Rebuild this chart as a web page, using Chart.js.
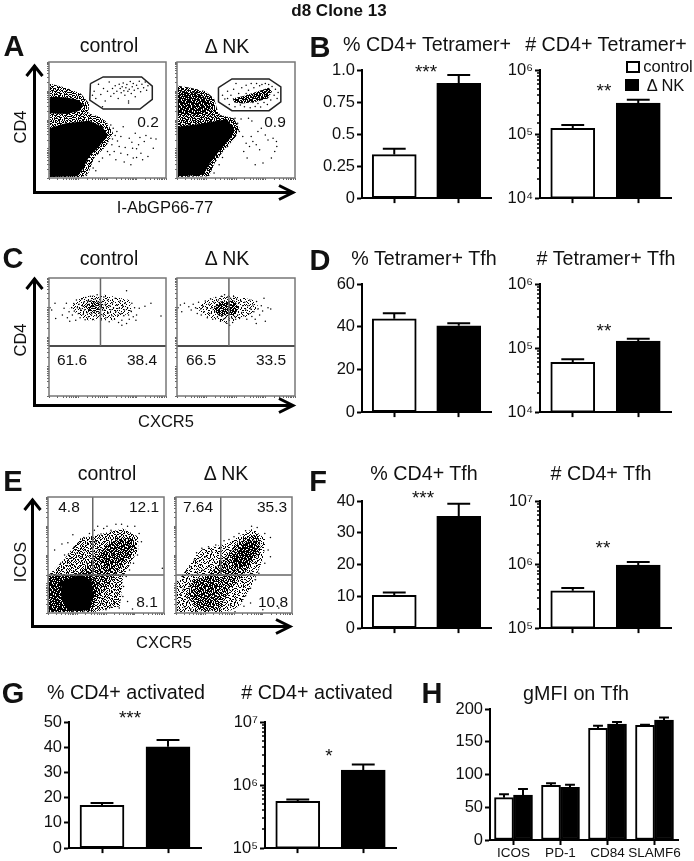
<!DOCTYPE html>
<html>
<head>
<meta charset="utf-8">
<script src="https://cdn.jsdelivr.net/npm/chart.js@4"></script>
<style>
  html, body { margin: 0; padding: 0; background: #fff; }
  #fig { position: relative; width: 694px; height: 861px; overflow: hidden; font-family: "Liberation Sans", Arial, sans-serif; color: #111; }
  #fig canvas { position: absolute; }
  #fig svg { position: absolute; left: 0; top: 0; }
  .t { position: absolute; white-space: nowrap; line-height: 1; transform: translate(-50%, -50%); }
  .box { position: absolute; border: 2px solid #000; box-sizing: border-box; }
</style>
</head>
<body>
<div id="fig"></div>
<script>
// bar panels: bar height, then top of the error whisker
const ctrlVsNk = ['control', 'ΔNK'];
const pctTetramer = [0.34, 0.895];
const pctTetramerTop = [0.385, 0.96];
const numTetramer = [1.23e5, 3.05e5];
const numTetramerTop = [1.38e5, 3.42e5];
const pctTetTfh = [43.7, 40.4];
const pctTetTfhTop = [46.3, 41.6];
const numTetTfh = [5.98e4, 1.28e5];
const numTetTfhTop = [6.7e4, 1.4e5];
const pctTfh = [10.3, 35.2];
const pctTfhTop = [11.2, 39.1];
const numTfh = [3.86e5, 9.77e5];
const numTfhTop = [4.29e5, 1.1e6];
const pctActivated = [17, 40.2];
const pctActivatedTop = [17.9, 42.9];
const numActivated = [5.5e5, 1.72e6];
const numActivatedTop = [5.9e5, 2.12e6];
const gmfiMarkers = ['ICOS', 'PD-1', 'CD84', 'SLAMF6'];
const gmfiControl = [64.6, 83.5, 170.5, 175];
const gmfiControlTop = [70, 86.5, 174.6, 176];
const gmfiNk = [68.7, 80.4, 177, 183];
const gmfiNkTop = [77.9, 84.5, 180, 187];

// flow plots, channels 0-350 on both axes
const flowTicks = [0, 26, 42, 52, 61, 67, 73, 78, 83, 88, 114, 130, 140, 149, 155, 161, 166, 171, 175, 201, 217, 228, 237, 243, 249, 254, 258, 262, 288, 304, 315, 324, 330, 336, 341, 346, 350];

const aCtrlGate = [[124,285],[162,305],[277,305],[309,277],[309,237],[272,208],[162,208],[122,235],[124,285]];
const aCtrlHalo = [[2,285],[50,272],[95,255],[120,225],[118,195],[150,185],[172,170],[192,135],[170,95],[135,60],[118,15],[100,3],[2,3]];
const aCtrlCore = [[[2,240],[12,245],[52,243],[87,235],[102,220],[92,203],[52,193],[2,195]],
                   [[2,150],[50,165],[120,173],[160,155],[175,130],[150,95],[120,65],[100,25],[85,5],[2,3]]];
const aCtrlDots = [[135,262],[140,240],[148,283],[155,252],[163,270],[168,232],[175,262],[180,290],[185,247],[190,270],[194,255],[198,278],[203,262],[207,240],[210,283],[213,270],[216,257],[219,275],[222,287],[224,263],[227,250],[230,272],[233,282],[236,262],[238,226],[240,268],[243,291],[246,255],[249,275],[252,285],[255,265],[258,245],[262,280],[266,270],[270,292],[274,260],[278,283],[283,272],[288,290],[292,265],[296,278],[238,232],[130,250],[160,215],
  [185,160],[192,150],[198,128],[203,140],[205,112],[210,95],[188,100],[195,80],[215,125],[222,155],[228,92],[235,70],[240,120],[248,108],[252,60],[258,135],[262,88],[268,100],[272,122],[275,75],[280,55],[285,110],[290,128],[296,65],[305,120],[312,90],[320,118],[200,55],[225,48],[245,40],[215,75],[182,70],[190,118],[250,90],[262,62],[125,45],[132,30],[140,22],[150,50],[160,60],[175,80],[112,8]];

const aNkGate = [[123,273],[163,299],[273,299],[308,275],[308,230],[273,203],[163,203],[123,230],[123,273]];
const aNkHalo = [[3,278],[40,272],[85,262],[110,240],[120,205],[128,190],[168,180],[186,150],[172,120],[140,85],[112,45],[95,5],[3,3]];
const aNkUpper = [[3,262],[55,258],[95,235],[100,205],[60,190],[3,195]];
const aNkLower = [[3,155],[68,163],[148,177],[168,150],[163,125],[128,85],[98,45],[78,10],[3,5]];
const aNkCluster = [[165,240],[200,248],[240,262],[272,272],[282,262],[270,240],[235,230],[195,225],[170,228]];
const aNkDots = [[135,250],[142,238],[150,262],[155,222],[160,250],[168,268],[172,215],[178,235],[183,255],[188,220],[192,272],[197,242],[200,215],[205,280],[210,232],[212,265],[217,212],[220,285],[225,228],[228,272],[232,216],[236,285],[240,225],[245,278],[248,214],[252,282],[258,228],[262,285],[268,222],[272,282],[278,235],[282,276],[288,250],[292,268],[297,240],[300,258],[150,240],[175,285],[205,255],[225,250],[250,240],[265,250],
  [172,180],[180,165],[190,178],[212,180],[222,172],[185,140],[195,125],[205,105],[215,95],[225,110],[235,100],[245,85],[198,80],[208,60],[232,40],[250,150],[262,130],[270,115],[285,120],[295,110],[296,95],[290,80],[280,60],[255,45],[220,125],[240,140],[125,40],[135,62],[150,95],[110,15]];

const cCtrlHalo = [[60,262],[100,295],[170,300],[240,285],[250,250],[190,225],[110,225]];
const cCtrlCore = [[105,270],[125,285],[160,280],[165,255],[135,245],[108,252]];
const cCtrlDots = [[3,262],[8,255],[18,275],[20,230],[40,240],[45,260],[52,275],[55,232],[60,250],[62,222],[68,262],[70,240],[74,274],[76,252],[80,225],[82,285],[85,262],[88,245],[90,272],[93,232],[95,258],[98,288],[100,268],[102,242],[104,278],[106,255],[108,226],[110,292],[112,266],[114,247],[116,281],[118,235],[120,272],[122,256],[124,296],[126,283],[128,244],[130,265],[132,228],[134,276],[136,252],[138,288],[140,268],[142,238],[144,300],[146,278],[148,258],[150,246],[152,286],[154,270],[156,226],[158,262],[160,280],[162,240],[164,294],[166,254],[168,272],[170,232],[172,264],[175,284],[178,246],[180,220],[182,268],[185,256],[188,238],[190,276],[193,262],[196,228],[198,290],[200,250],[203,270],[206,240],[208,218],[210,260],[213,282],[216,245],[218,225],[220,268],[224,238],[226,255],[228,276],[232,215],[235,262],[238,240],[240,228],[245,252],[248,275],[252,235],[256,262],[260,225],[218,210],[270,260],[262,240],[287,266],[305,275],[335,237],[232,312]];

const cNkHalo = [[55,262],[100,290],[160,300],[225,285],[245,262],[205,235],[150,215],[90,235]];
const cNkCore = [[105,255],[125,280],[170,283],[185,262],[170,240],[125,238]];
const cNkDots = [[3,262],[10,270],[14,250],[22,275],[35,265],[42,255],[48,272],[55,262],[60,245],[64,278],[70,258],[72,240],[76,268],[80,250],[84,282],[88,262],[90,232],[94,272],[97,245],[100,288],[103,262],[106,228],[109,278],[112,250],[115,292],[118,268],[120,234],[123,285],[126,245],[129,222],[132,296],[135,238],[138,228],[141,300],[144,232],[147,216],[150,294],[153,226],[156,210],[159,290],[162,232],[165,218],[168,295],[171,236],[174,228],[177,288],[180,240],[183,276],[186,232],[189,282],[192,248],[195,268],[198,238],[201,278],[204,255],[207,228],[210,268],[213,244],[216,285],[219,258],[222,236],[225,270],[228,250],[232,228],[236,280],[240,258],[245,240],[250,268],[254,252],[258,290],[262,222],[270,262],[278,258],[235,215]];

const eCtrlHalo = [[47,160],[97,225],[147,235],[227,255],[272,230],[272,190],[227,110],[217,20],[137,2],[2,2],[2,115]];
const eCtrlMid = [[97,120],[157,190],[207,228],[257,225],[267,195],[227,145],[187,90],[147,40],[127,5],[60,3],[2,3],[2,105],[47,110]];
const eCtrlLobe = [[150,170],[190,215],[245,225],[262,200],[225,155],[180,125]];
const eCtrlLow = [[2,112],[60,115],[125,125],[150,85],[135,10],[2,3]];
const eCtrlCore = [[40,95],[100,118],[132,95],[137,50],[122,8],[60,6],[40,50]];
const eCtrlDots = [[62,178],[70,165],[80,200],[88,182],[92,212],[100,170],[108,228],[112,190],[118,150],[38,150],[50,175],[30,135],[20,190],[42,208],[60,212],[75,236],[125,240],[140,250],[150,262],[160,238],[168,255],[130,210],[145,215],[178,262],[190,250],[205,268],[222,268],[240,262],[262,262],[275,240],[282,215],[270,175],[258,150],[246,130],[236,110],[228,80],[226,50],[208,60],[200,32],[215,15],[190,18],[175,10],[240,35],[255,12],[185,130],[165,110],[150,85],[170,68],[162,30],[150,15],[345,135],[205,120],[216,160],[235,175],[245,205],[225,215],[195,175],[175,160]];

const eNkHalo = [[2,90],[72,190],[152,210],[232,255],[272,220],[262,160],[232,90],[192,20],[152,2],[2,2]];
const eNkMid = [[92,110],[152,170],[192,220],[247,240],[257,190],[212,125],[162,70],[132,10],[72,5],[32,50],[47,95]];
const eNkCoreLow = [[52,100],[112,115],[132,70],[117,20],[72,15],[52,50]];
const eNkCoreHigh = [[172,160],[202,210],[242,220],[242,180],[207,140],[177,135]];
const eNkDots = [[5,95],[12,80],[20,110],[30,125],[42,140],[55,160],[62,182],[78,195],[88,170],[98,200],[108,185],[120,205],[132,195],[145,218],[160,222],[175,230],[190,240],[210,248],[228,262],[245,258],[268,240],[285,228],[278,190],[285,170],[268,150],[250,120],[240,100],[225,75],[210,52],[198,40],[205,20],[225,30],[262,10],[310,15],[178,4],[180,40],[165,22],[8,30],[15,55],[5,10],[25,18],[35,35],[22,72],[40,80],[45,12],[60,4],[120,150],[100,140],[80,130],[65,120],[140,130],[165,125],[200,95],[225,120],[240,150],[150,150],[180,90]];

// stipple tile for the crowded parts of the flow plots
const stippleRows = [
  '730916248573019462857301',
  '182657039416285073914628',
  '965024817390562481703956',
  '407381956204837195620483',
  '251796430865172943086517',
  '839042615978340261597834',
  '614580372149605837214960',
  '076213984536027198453602',
  '348965120874391520687439',
  '590471836203958163720495',
  '123708549617204895361720',
  '786234095182673409518267',
  '041859627340186295734018',
  '965302718496530271849653',
  '217496083521740960835217',
  '830571462908351746290835',
  '459128730641592873064159',
  '602843159786024315978602',
  '174960528317496052831749',
  '385217604935821760493582',
  '926085371460926537146092',
  '043792816525043928165250',
  '718354960287183549602871',
  '569120483679561204836795'
];

// panel letters, titles and other annotation, x and y are the text centres
const texts = [
  ['d8 Clone 13', 339, 10, 17, 'b'],
  ['A', 14, 46, 29, 'b'], ['B', 320, 47, 29, 'b'], ['C', 13, 258, 29, 'b'], ['D', 320, 260, 29, 'b'],
  ['E', 13, 481, 29, 'b'], ['F', 318, 481, 29, 'b'], ['G', 13, 693, 29, 'b'], ['H', 432, 693, 29, 'b'],
  ['control', 109, 46, 19.5], ['Δ NK', 227, 46.5, 19.5],
  ['control', 109, 259, 19.5], ['Δ NK', 227, 259, 19.5],
  ['control', 107, 474, 19.5], ['Δ NK', 226, 474, 19.5],
  ['% CD4+ Tetramer+', 427, 45, 19.7], ['# CD4+ Tetramer+', 606, 45, 19.7],
  ['% Tetramer+ Tfh', 424, 259, 19.7], ['# Tetramer+ Tfh', 606, 259, 19.7],
  ['% CD4+ Tfh', 424, 474, 19.7], ['# CD4+ Tfh', 601, 474, 19.7],
  ['% CD4+ activated', 126, 693, 19.7], ['# CD4+ activated', 317, 693, 19.7],
  ['gMFI on Tfh', 576, 694, 19.7],
  ['CD4', 19.5, 127, 16.5, 'r'], ['CD4', 19.5, 340, 16.5, 'r'], ['ICOS', 19.5, 562, 16.5, 'r'],
  ['I-AbGP66-77', 165, 207, 16.5], ['CXCR5', 166, 421, 16.5], ['CXCR5', 164, 642, 16.5],
  ['0.2', 148, 122, 15.5], ['0.9', 275, 122, 15.5],
  ['61.6', 72, 360, 15.5], ['38.4', 142, 360, 15.5], ['66.5', 201, 360, 15.5], ['33.5', 271, 360, 15.5],
  ['4.8', 69, 507, 15.5], ['12.1', 144, 507, 15.5], ['7.64', 198, 507, 15.5], ['35.3', 272, 507, 15.5],
  ['8.1', 147, 602, 15.5], ['10.8', 273, 602, 15.5],
  ['***', 426, 71, 19], ['**', 604, 90, 19], ['**', 604, 330, 19],
  ['***', 423, 497, 19], ['**', 603, 547, 19], ['***', 130, 717, 19], ['*', 329, 755, 19],
  ['control', 668, 66, 16.5], ['Δ NK', 665.5, 85, 16.5]
];

Chart.defaults.font.family = '"Liberation Sans", Arial, sans-serif';
Chart.defaults.color = '#111';

const fig = document.getElementById('fig');
const supers = { 4: '⁴', 5: '⁵', 6: '⁶', 7: '⁷' };
const isPow10 = v => Math.abs(Math.log10(v) - Math.round(Math.log10(v))) < 1e-6;

function addCanvas(rect, m) {
  const c = document.createElement('canvas');
  c.width = rect[2] - rect[0] + m.left + m.right;
  c.height = rect[3] - rect[1] + m.top + m.bottom;
  c.style.left = (rect[0] - m.left) + 'px';
  c.style.top = (rect[1] - m.top) + 'px';
  c.style.width = c.width + 'px';
  c.style.height = c.height + 'px';
  fig.appendChild(c);
  return c;
}

// whiskers go from the bar top up to the value in dataset.tops
const whiskers = {
  id: 'whiskers',
  afterDatasetsDraw(chart) {
    const { ctx, scales: { y } } = chart;
    ctx.save();
    ctx.strokeStyle = '#000';
    ctx.lineWidth = 2;
    chart.data.datasets.forEach((ds, i) => {
      chart.getDatasetMeta(i).data.forEach((bar, k) => {
        const top = y.getPixelForValue(ds.tops[k]);
        const cap = ds.barThickness * 0.26;
        ctx.beginPath();
        ctx.moveTo(bar.x, bar.y);
        ctx.lineTo(bar.x, top);
        ctx.moveTo(bar.x - cap, top);
        ctx.lineTo(bar.x + cap, top);
        ctx.stroke();
      });
    });
    ctx.restore();
  }
};

// log axes: the in-between ticks are shorter than the decades
const minorTicks = {
  id: 'minorTicks',
  afterDraw(chart) {
    const { ctx, scales: { y } } = chart;
    if (y.type !== 'logarithmic') return;
    ctx.save();
    ctx.strokeStyle = '#000';
    ctx.lineWidth = 1.5;
    y.ticks.forEach(t => {
      if (isPow10(t.value)) return;
      const py = Math.round(y.getPixelForValue(t.value));
      ctx.beginPath();
      ctx.moveTo(y.right, py);
      ctx.lineTo(y.right - 3, py);
      ctx.stroke();
    });
    ctx.restore();
  }
};

function barPanel(rect, cfg) {
  const m = { left: 62, right: 8, top: 12, bottom: cfg.labels ? 26 : 8 };
  const yScale = {
    type: cfg.log ? 'logarithmic' : 'linear',
    min: cfg.min, max: cfg.max,
    afterFit: s => { s.width = m.left; },
    border: { color: '#000', width: 2 },
    grid: {
      drawOnChartArea: false, tickLength: 5, tickWidth: 2,
      tickColor: c => (!cfg.log || isPow10(c.tick.value)) ? '#000' : 'rgba(0,0,0,0)'
    },
    ticks: {
      padding: 2, autoSkip: false, maxRotation: 0, stepSize: cfg.step,
      font: { size: 16.5 },
      callback: v => {
        if (cfg.log) return isPow10(v) ? '10' + supers[Math.round(Math.log10(v))] : '';
        return cfg.fmt ? cfg.fmt(v) : String(v);
      }
    }
  };
  new Chart(addCanvas(rect, m), {
    type: 'bar',
    data: {
      labels: cfg.labels || ctrlVsNk,
      datasets: cfg.datasets
    },
    options: {
      responsive: false, animation: false,
      layout: { padding: { top: m.top, right: m.right } },
      plugins: { legend: { display: false }, tooltip: { enabled: false } },
      scales: {
        x: {
          afterFit: s => { s.height = m.bottom; },
          border: { color: '#000', width: 2 },
          grid: { offset: false, drawOnChartArea: false, tickLength: 5, tickWidth: 2, tickColor: '#000' },
          ticks: { display: !!cfg.labels, padding: 0, autoSkip: false, maxRotation: 0, font: { size: 13.5 } }
        },
        y: yScale
      }
    },
    plugins: [whiskers, minorTicks]
  });
}

function twoBars(values, tops) {
  const common = { borderColor: '#000', borderWidth: 2, borderSkipped: false, barThickness: 44 };
  return [{
    ...common, data: values, tops,
    backgroundColor: ['#fff', '#000']
  }];
}

function gmfiSets() {
  const common = { borderColor: '#000', borderWidth: 2, borderSkipped: false, barThickness: 19 };
  return [
    { ...common, label: 'control', data: gmfiControl, tops: gmfiControlTop, backgroundColor: '#fff' },
    { ...common, label: 'ΔNK', data: gmfiNk, tops: gmfiNkTop, backgroundColor: '#000' }
  ];
}

const frame = {
  id: 'frame',
  afterDraw(chart) {
    const { ctx, chartArea: a } = chart;
    ctx.save();
    ctx.strokeStyle = '#777';
    ctx.lineWidth = 1.5;
    ctx.strokeRect(a.left, a.top, a.right - a.left, a.bottom - a.top);
    ctx.restore();
  }
};

const toXY = pts => pts.map(p => ({ x: p[0], y: p[1] }));

// density 1-9 gives a stipple, 10 is solid black
function stipple(density) {
  if (density >= 10) return '#000';
  const tile = document.createElement('canvas');
  tile.width = tile.height = 24;
  const g = tile.getContext('2d');
  g.fillStyle = '#000';
  stippleRows.forEach((row, y) => {
    [...row].forEach((d, x) => { if (+d < density) g.fillRect(x, y, 1, 1); });
  });
  return g.createPattern(tile, 'repeat');
}

function flowPanel(rect, layers, dots, lines) {
  const m = { left: 4, right: 4, top: 4, bottom: 6 };
  // the first dataset ends up on top in Chart.js, so lines go in first
  const datasets = [];
  (lines || []).forEach(l => {
    datasets.push({ data: toXY(l[0]), showLine: true, borderColor: l[1], borderWidth: l[2], pointRadius: 0 });
  });
  datasets.push({ data: toXY(dots), pointRadius: 0.75, pointBorderWidth: 0, pointBackgroundColor: '#000' });
  [...layers].reverse().forEach(l => {
    datasets.push({ data: toXY(l[0]), showLine: true, fill: 'shape', backgroundColor: stipple(l[1]), borderWidth: 0, pointRadius: 0 });
  });
  const axis = {
    type: 'linear', min: 0, max: 350,
    afterBuildTicks: s => { s.ticks = flowTicks.map(v => ({ value: v })); },
    border: { display: false },
    grid: { drawOnChartArea: false, tickLength: 2, tickWidth: 1, tickColor: '#666' },
    ticks: { display: false }
  };
  const c = addCanvas(rect, m);
  c.style.filter = 'blur(0.4px)';
  new Chart(c, {
    type: 'scatter',
    data: { datasets },
    options: {
      responsive: false, animation: false,
      layout: { padding: { top: m.top, right: m.right } },
      plugins: { legend: { display: false }, tooltip: { enabled: false } },
      scales: {
        x: { ...axis, afterFit: s => { s.height = m.bottom; } },
        y: { ...axis, afterFit: s => { s.width = m.left; } }
      }
    },
    plugins: [frame]
  });
}

// flow plots
const GATE = '#222', VLINE = '#666';
flowPanel([49, 62, 166, 178], [[aCtrlHalo, 5], ...aCtrlCore.map(p => [p, 10])], aCtrlDots, [[aCtrlGate, GATE, 1.5]]);
flowPanel([177, 62, 295, 178], [[aNkHalo, 6], [aNkUpper, 8], [aNkLower, 10], [aNkCluster, 7]], aNkDots, [[aNkGate, GATE, 1.5]]);
flowPanel([49, 278, 166, 396], [[cCtrlHalo, 2], [cCtrlCore, 5]], cCtrlDots, [[[[154, 148], [154, 350]], VLINE, 1.5], [[[0, 148], [350, 148]], '#111', 1.5]]);
flowPanel([177, 278, 295, 396], [[cNkHalo, 2], [cNkCore, 7]], cNkDots, [[[[154, 148], [154, 350]], VLINE, 1.5], [[[0, 148], [350, 148]], '#111', 1.5]]);
flowPanel([48, 497, 164, 613], [[eCtrlHalo, 4], [eCtrlMid, 6], [eCtrlLobe, 7], [eCtrlLow, 8], [eCtrlCore, 10]], eCtrlDots, [[[[135, 115], [135, 350]], VLINE, 1.5], [[[0, 115], [350, 115]], VLINE, 1.5]]);
flowPanel([176, 497, 292, 613], [[eNkHalo, 3], [eNkMid, 6], [eNkCoreLow, 7], [eNkCoreHigh, 8]], eNkDots, [[[[135, 115], [135, 350]], VLINE, 1.5], [[[0, 115], [350, 115]], VLINE, 1.5]]);

// bar panels
barPanel([362, 70, 491, 202], { min: 0, max: 1, step: 0.25, fmt: v => v === 1 ? '1.0' : String(v), datasets: twoBars(pctTetramer, pctTetramerTop) });
barPanel([540, 70, 671, 202], { log: true, min: 1e4, max: 1e6, datasets: twoBars(numTetramer, numTetramerTop) });
barPanel([362, 284, 491, 416], { min: 0, max: 60, step: 20, datasets: twoBars(pctTetTfh, pctTetTfhTop) });
barPanel([540, 284, 671, 416], { log: true, min: 1e4, max: 1e6, datasets: twoBars(numTetTfh, numTetTfhTop) });
barPanel([362, 501, 491, 632], { min: 0, max: 40, step: 10, datasets: twoBars(pctTfh, pctTfhTop) });
barPanel([540, 501, 671, 632], { log: true, min: 1e5, max: 1e7, datasets: twoBars(numTfh, numTfhTop) });
barPanel([69, 722, 201, 852], { min: 0, max: 50, step: 10, datasets: twoBars(pctActivated, pctActivatedTop) });
barPanel([265, 722, 396, 852], { log: true, min: 1e5, max: 1e7, datasets: twoBars(numActivated, numActivatedTop) });
barPanel([490, 709, 678, 840], { min: 0, max: 200, step: 50, labels: gmfiMarkers, datasets: gmfiSets() });

// axis arrows of the flow plots
function arrows(x, topY, botY, tipX) {
  return `<path d="M${x} ${topY}V${botY}H${tipX}" fill="none" stroke="#000" stroke-width="3"/>` +
    `<path d="M${x - 8} ${topY + 11}L${x} ${topY + 1}L${x + 8} ${topY + 11}M${tipX - 14} ${botY - 7}L${tipX} ${botY}L${tipX - 14} ${botY + 7}" fill="none" stroke="#000" stroke-width="3"/>`;
}
const svgNs = 'http://www.w3.org/2000/svg';
const svg = document.createElementNS(svgNs, 'svg');
svg.setAttribute('width', 694);
svg.setAttribute('height', 861);
svg.innerHTML = arrows(34.5, 65, 192.5, 293) + arrows(34.5, 278, 405.5, 293) + arrows(32.5, 499, 626.5, 290);
fig.appendChild(svg);

// legend swatches
[[626, 61, '#fff'], [625, 79, '#000']].forEach(b => {
  const d = document.createElement('div');
  d.className = 'box';
  d.style.cssText = `left:${b[0]}px;top:${b[1]}px;width:14px;height:12px;background:${b[2]}`;
  fig.appendChild(d);
});

texts.forEach(([s, x, y, size, kind]) => {
  const d = document.createElement('div');
  d.className = 't';
  d.textContent = s;
  d.style.left = x + 'px';
  d.style.top = y + 'px';
  d.style.fontSize = size + 'px';
  if (kind === 'b') d.style.fontWeight = 'bold';
  if (kind === 'r') d.style.transform = 'translate(-50%,-50%) rotate(-90deg)';
  fig.appendChild(d);
});
</script>
</body>
</html>
